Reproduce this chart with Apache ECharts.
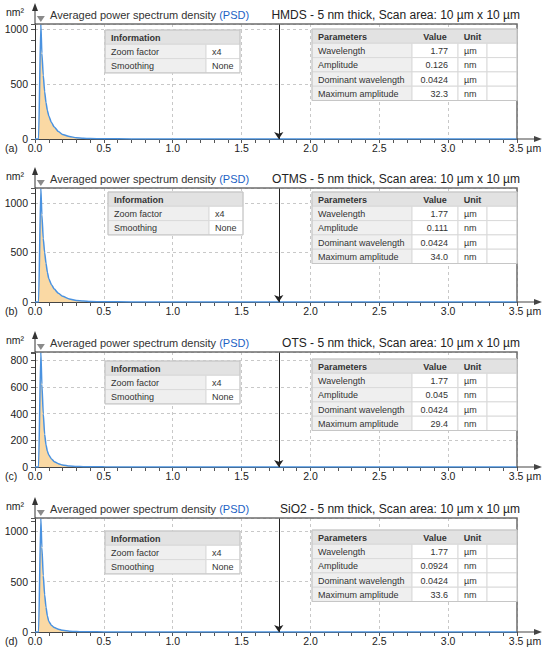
<!DOCTYPE html>
<html>
<head>
<meta charset="utf-8">
<script src="https://cdn.jsdelivr.net/npm/echarts/dist/echarts.min.js"></script>
<style>
  html, body { margin: 0; padding: 0; background: #ffffff; }
  #chart { width: 550px; height: 654px; }
</style>
</head>
<body>
<div id="chart"></div>
<script>
// ---------------- DATA ----------------
const X_VALUES = [0, 0.026, 0.0424, 0.05, 0.06, 0.07, 0.08, 0.09, 0.1, 0.12, 0.14, 0.17, 0.2, 0.25, 0.3, 0.35, 0.4, 0.5, 0.7, 1.0, 1.5, 2.0, 2.5, 3.0, 3.5];
const PSD_HMDS = [0, 0, 1045, 780, 580, 430, 330, 260, 210, 150, 108, 68, 42, 22, 12, 7, 4, 2, 1, 0.5, 0.3, 0.2, 0.1, 0.1, 0];
const PSD_OTMS = [0, 0, 1150, 880, 640, 500, 390, 300, 235, 175, 130, 88, 58, 30, 16, 9, 5, 2.5, 1, 0.5, 0.3, 0.2, 0.1, 0.1, 0];
const PSD_OTS  = [0, 0, 862, 620, 400, 245, 165, 118, 90, 60, 40, 25, 15, 7, 4, 2, 1.5, 1, 0.5, 0.3, 0.2, 0.1, 0.1, 0.1, 0];
const PSD_SIO2 = [0, 0, 1132, 840, 560, 370, 245, 160, 105, 65, 45, 28, 17, 8, 4, 2, 1.5, 1, 0.5, 0.3, 0.2, 0.1, 0.1, 0.1, 0];

const SAMPLE_NAMES = ['HMDS', 'OTMS', 'OTS', 'SiO2'];
const PANEL_LABELS = ['(a)', '(b)', '(c)', '(d)'];
const TITLE_SUFFIX = ' - 5 nm thick, Scan area: 10 µm x 10 µm';
const LEFT_TITLE = 'Averaged power spectrum density ';
const LEFT_TITLE_ABBR = '(PSD)';
const Y_UNIT = 'nm²';
const X_UNIT = 'µm';

const X_MIN = 0, X_MAX = 3.5, X_STEP = 0.5, X_MINOR_SPLIT = 5;
const Y_STEPS = [500, 500, 200, 500];
const Y_MINOR_STEPS = [100, 100, 50, 100];

const PARAM_HEAD = ['Parameters', 'Value', 'Unit', ''];
const PARAM_NAMES = ['Wavelength', 'Amplitude', 'Dominant wavelength', 'Maximum amplitude'];
const PARAM_UNITS = ['µm', 'nm', 'µm', 'nm'];
const PARAMS_HMDS = ['1.77', '0.126', '0.0424', '32.3'];
const PARAMS_OTMS = ['1.77', '0.111', '0.0424', '34.0'];
const PARAMS_OTS  = ['1.77', '0.045', '0.0424', '29.4'];
const PARAMS_SIO2 = ['1.77', '0.0924', '0.0424', '33.6'];

const INFO_HEAD = ['Information', ''];
const INFO_NAMES = ['Zoom factor', 'Smoothing'];
const INFO_VALUES = ['x4', 'None'];

// ---------------- LAYOUT ----------------
const FONT = '"Liberation Sans", Arial, sans-serif';
const GRID_TOP = [24, 188, 352, 518];
const GRID_BOTTOM = [139, 302, 467, 632];
const PLOT_LEFT = 35, PLOT_RIGHT = 517;
const INFO_X = [105, 108, 105, 105];
const INFO_DY = [6, 4, 9, 13];
const PARAM_X = 312;
const PARAM_DY = [5, 4, 7, 12];
const ROW_H = 14.3;

const psdList = [PSD_HMDS, PSD_OTMS, PSD_OTS, PSD_SIO2];
const paramList = [PARAMS_HMDS, PARAMS_OTMS, PARAMS_OTS, PARAMS_SIO2];

const grids = [], xAxes = [], yAxes = [], series = [], graphics = [];

function makeTable(x0, y0, colW, rows, aligns, headAligns) {
  const out = [];
  const totalW = colW.reduce((a, b) => a + b, 0);
  rows.forEach((row, r) => {
    const y = y0 + r * ROW_H;
    if (r === 0) {
      out.push({ type: 'rect', z: 100, silent: true, shape: { x: x0, y: y, width: totalW, height: ROW_H },
        style: { fill: '#e2e2e2', stroke: '#d2d2d2', lineWidth: 1 } });
    }
    let cx = x0;
    colW.forEach((w, c) => {
      if (r > 0) {
        out.push({ type: 'rect', z: 100, silent: true, shape: { x: cx, y: y, width: w, height: ROW_H },
          style: { fill: c === 0 ? '#efefef' : '#ffffff', stroke: '#dadada', lineWidth: 1 } });
      }
      const txt = row[c];
      if (txt) {
        const al = r === 0 ? headAligns[c] : aligns[c];
        const tx = al === 'left' ? cx + 6 : (al === 'right' ? cx + w - 10 : cx + w / 2);
        out.push({ type: 'text', z: 101, silent: true, x: tx, y: y + ROW_H / 2 + 0.5,
          style: { text: txt, align: al, verticalAlign: 'middle',
            font: (r === 0 ? 'bold ' : '') + '9px ' + FONT, fill: '#333333' } });
      }
      cx += w;
    });
  });
  out.push({ type: 'rect', z: 101, silent: true, shape: { x: x0, y: y0, width: totalW, height: ROW_H * rows.length },
    style: { fill: 'none', stroke: '#c6c6c6', lineWidth: 1 } });
  return out;
}

for (let i = 0; i < 4; i++) {
  const T = GRID_TOP[i], B = GRID_BOTTOM[i];
  const psd = psdList[i];
  const peak = Math.max.apply(null, psd);
  const step = Y_STEPS[i];
  grids.push({ left: PLOT_LEFT, width: PLOT_RIGHT - PLOT_LEFT, top: T, height: B - T,
    show: false, outerBoundsMode: 'none', containLabel: false });

  xAxes.push({
    type: 'value', gridIndex: i, min: X_MIN, max: X_MAX, interval: X_STEP,
    axisLine: { show: true, onZero: false, lineStyle: { color: '#444444', width: 1 } },
    axisTick: { show: true, length: 4, lineStyle: { color: '#555555' } },
    minorTick: { show: true, splitNumber: X_MINOR_SPLIT, length: 4, lineStyle: { color: '#555555' } },
    minorSplitLine: { show: false },
    splitLine: { show: true, lineStyle: { color: '#c8c8c8', type: [3, 3], width: 1 } },
    axisLabel: {
      fontFamily: FONT, fontSize: 10.5, color: '#222222', margin: 3,
      formatter: v => (Math.abs(v - X_MAX) < 1e-9 ? '{u|' + v.toFixed(1) + ' ' + X_UNIT + '}' : v.toFixed(1)),
      rich: { u: { fontFamily: FONT, fontSize: 10.5, color: '#222222', padding: [0, 0, 0, 16] } }
    }
  });

  yAxes.push({
    type: 'value', gridIndex: i, position: 'left', min: 0, max: peak, interval: step,
    axisLine: { show: true, onZero: false, lineStyle: { color: '#333333', width: 1 } },
    axisTick: { show: false },
    splitLine: { show: true, lineStyle: { color: '#c8c8c8', type: [3, 3], width: 1 } },
    axisLabel: { fontFamily: FONT, fontSize: 10.5, color: '#222222', margin: 7,
      formatter: v => (v % step === 0 ? String(v) : '') }
  });
  yAxes.push({
    type: 'value', gridIndex: i, position: 'left', min: 0, max: peak, interval: Y_MINOR_STEPS[i],
    axisLine: { show: false }, axisLabel: { show: false }, splitLine: { show: false },
    axisTick: { show: true, length: 4, lineStyle: { color: '#555555' } }
  });

  series.push({
    type: 'line', xAxisIndex: i, yAxisIndex: 2 * i, name: SAMPLE_NAMES[i],
    data: X_VALUES.map((x, k) => [x, psd[k]]),
    showSymbol: false, symbol: 'none', smooth: 0.2, smoothMonotone: 'x',
    lineStyle: { color: '#4a92e0', width: 1.5 },
    areaStyle: { color: '#fad9a4', opacity: 1 },
    z: 3, animation: false, silent: true,
    markPoint: {
      silent: true, animation: false,
      symbol: 'triangle', symbolSize: [8, 6], symbolRotate: 180, symbolOffset: [0, -5],
      itemStyle: { color: '#8a8a8a' }, label: { show: false },
      data: [{ type: 'max' }]
    },
    markLine: {
      silent: true, animation: false,
      symbol: ['arrow', 'none'], symbolSize: [7, 7],
      lineStyle: { color: '#222222', width: 1, type: 'solid' },
      label: { show: false },
      data: [{ xAxis: parseFloat(paramList[i][0]) }]
    }
  });

  // plot box top and right borders
  graphics.push({ type: 'polyline', z: 50, silent: true,
    shape: { points: [[PLOT_LEFT, T], [PLOT_RIGHT, T], [PLOT_RIGHT, B]] },
    style: { stroke: '#6e6e6e', lineWidth: 1.5, fill: null } });

  // texts
  graphics.push({ type: 'text', z: 100, silent: true, x: 6, y: T - 12,
    style: { text: Y_UNIT, font: '10.5px ' + FONT, fill: '#222222', align: 'left', verticalAlign: 'middle' } });
  graphics.push({ type: 'text', z: 100, silent: true, x: 50, y: T - 9,
    style: { text: '{a|' + LEFT_TITLE + '}{b|' + LEFT_TITLE_ABBR + '}', align: 'left', verticalAlign: 'middle',
      rich: { a: { fontFamily: FONT, fontSize: 11, fill: '#333333', color: '#333333' },
              b: { fontFamily: FONT, fontSize: 11, fill: '#1d62c4', color: '#1d62c4' } } } });
  graphics.push({ type: 'text', z: 100, silent: true, x: 520, y: T - 9,
    style: { text: SAMPLE_NAMES[i] + TITLE_SUFFIX, font: '12px ' + FONT, fill: '#222222', align: 'right', verticalAlign: 'middle' } });
  graphics.push({ type: 'text', z: 100, silent: true, x: 5, y: B + 9,
    style: { text: PANEL_LABELS[i], font: '10.5px ' + FONT, fill: '#222222', align: 'left', verticalAlign: 'middle' } });

  // axis arrow extensions
  graphics.push({ type: 'line', z: 100, silent: true, shape: { x1: PLOT_LEFT, y1: T, x2: PLOT_LEFT, y2: T - 15 },
    style: { stroke: '#333333', lineWidth: 1 } });
  graphics.push({ type: 'polygon', z: 100, silent: true,
    shape: { points: [[PLOT_LEFT - 3, T - 13], [PLOT_LEFT, T - 21], [PLOT_LEFT + 3, T - 13]] },
    style: { fill: '#333333' } });
  graphics.push({ type: 'line', z: 100, silent: true, shape: { x1: PLOT_RIGHT, y1: B, x2: PLOT_RIGHT + 19, y2: B },
    style: { stroke: '#444444', lineWidth: 1 } });
  graphics.push({ type: 'polygon', z: 100, silent: true,
    shape: { points: [[PLOT_RIGHT + 17, B - 3], [PLOT_RIGHT + 25, B], [PLOT_RIGHT + 17, B + 3]] },
    style: { fill: '#444444' } });

  // tables
  const infoRows = [INFO_HEAD].concat(INFO_NAMES.map((n, k) => [n, INFO_VALUES[k]]));
  makeTable(INFO_X[i], T + INFO_DY[i], [101, 34], infoRows, ['left', 'left'], ['left', 'left'])
    .forEach(e => graphics.push(e));
  const params = paramList[i];
  const paramRows = [PARAM_HEAD].concat(PARAM_NAMES.map((n, k) => [n, params[k], PARAM_UNITS[k], '']));
  makeTable(PARAM_X, T + PARAM_DY[i], [100, 46, 29, 30], paramRows,
    ['left', 'right', 'left', 'left'], ['left', 'center', 'center', 'left'])
    .forEach(e => graphics.push(e));
}

const chart = echarts.init(document.getElementById('chart'), null, { renderer: 'svg', width: 550, height: 654 });
chart.setOption({
  animation: false,
  backgroundColor: '#ffffff',
  grid: grids,
  xAxis: xAxes,
  yAxis: yAxes,
  series: series,
  graphic: { elements: graphics }
});
</script>
</body>
</html>
